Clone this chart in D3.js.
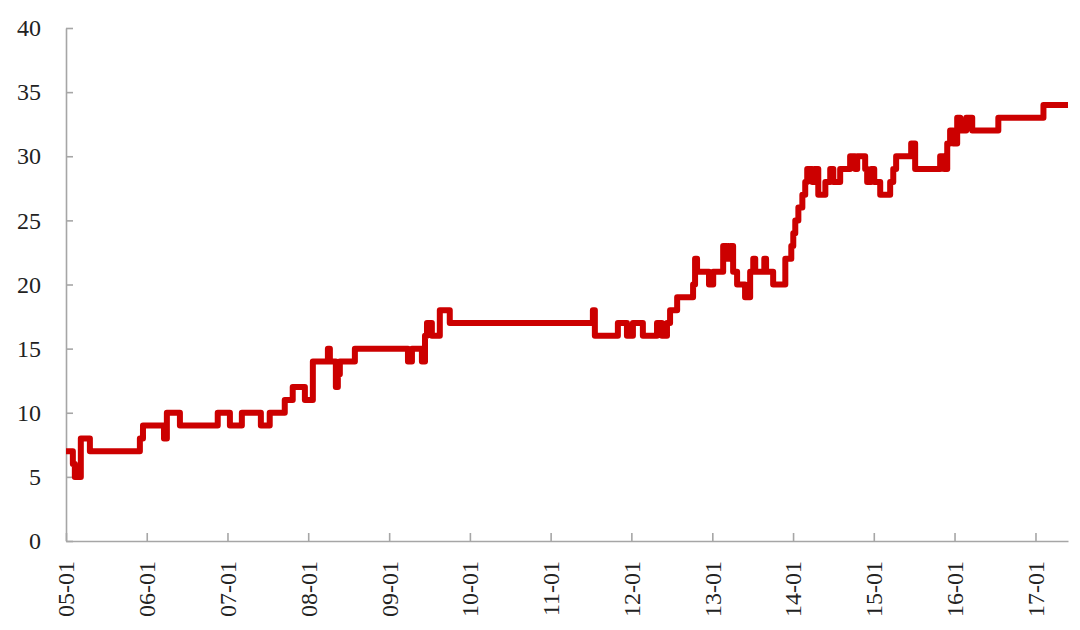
<!DOCTYPE html>
<html>
<head>
<meta charset="utf-8">
<script src="https://cdn.jsdelivr.net/npm/d3@7"></script>
<style>
  html, body { margin: 0; padding: 0; background: #fff; }
  svg { display: block; }
  .axis text { font-family: "Liberation Serif", "DejaVu Serif", serif; font-size: 24px; fill: #222; }
  .axis path, .axis line { stroke: #a6a6a6; stroke-width: 1.6; }
</style>
</head>
<body>
<svg id="chart" width="1080" height="630"></svg>
<script>
"use strict";

// Change points of the step series (date, value).
const dates = [
  "2005-01-01", "2005-02-01", "2005-02-10", "2005-03-09", "2005-04-19",
  "2005-12-01", "2005-12-15", "2006-03-20", "2006-04-02", "2006-05-31",
  "2006-11-18", "2007-01-12", "2007-03-07", "2007-06-01", "2007-07-11",
  "2007-09-17", "2007-10-23", "2007-12-17", "2008-01-22", "2008-03-30",
  "2008-04-08", "2008-05-05", "2008-05-14", "2008-05-23", "2008-07-30",
  "2009-03-27", "2009-04-14", "2009-05-29", "2009-06-12", "2009-06-21",
  "2009-07-13", "2009-08-18", "2009-10-02", "2011-07-11", "2011-07-20",
  "2011-11-01", "2011-12-12", "2012-01-08", "2012-02-22", "2012-04-26",
  "2012-05-18", "2012-06-10", "2012-06-24", "2012-07-26", "2012-10-06",
  "2012-10-15", "2012-10-24", "2012-12-17", "2013-01-05", "2013-02-19",
  "2013-03-09", "2013-03-23", "2013-04-05", "2013-04-23", "2013-05-29",
  "2013-06-21", "2013-07-05", "2013-07-14", "2013-08-24", "2013-09-01",
  "2013-10-03", "2013-11-27", "2013-12-24", "2014-01-02", "2014-01-11",
  "2014-01-25", "2014-02-12", "2014-02-25", "2014-03-06", "2014-03-29",
  "2014-04-07", "2014-04-25", "2014-05-27", "2014-06-18", "2014-07-02",
  "2014-08-02", "2014-09-16", "2014-10-09", "2014-10-18", "2014-11-23",
  "2014-12-02", "2014-12-20", "2015-01-03", "2015-01-30", "2015-03-16",
  "2015-03-30", "2015-04-12", "2015-06-19", "2015-07-07", "2015-10-28",
  "2015-11-15", "2015-11-29", "2015-12-12", "2015-12-26", "2016-01-13",
  "2016-01-27", "2016-02-23", "2016-03-21", "2016-07-17", "2017-02-06",
  "2017-05-28"
];
const values = [
  7, 6, 5, 8, 7,
  8, 9, 8, 10, 9,
  10, 9, 10, 9, 10,
  11, 12, 11, 14, 15,
  14, 12, 13, 14, 15,
  14, 15, 14, 16, 17,
  16, 18, 17, 18, 16,
  17, 16, 17, 16, 17,
  16, 17, 18, 19, 20,
  22, 21, 20, 21, 23,
  22, 23, 21, 20, 19,
  21, 22, 21, 22, 21,
  20, 22, 23, 24, 25,
  26, 27, 28, 29, 28,
  29, 27, 28, 29, 28,
  29, 30, 29, 30, 29,
  28, 29, 28, 27, 28,
  29, 30, 31, 29, 30,
  29, 31, 32, 31, 33,
  32, 33, 32, 33, 34,
  34
];
const yTicks = [0, 5, 10, 15, 20, 25, 30, 35, 40];

const parse = d3.timeParse("%Y-%m-%d");
const data = dates.map((d, i) => ({ date: parse(d), value: values[i] }));

const svg = d3.select("#chart"),
    margin = { left: 66, right: 12, top: 28, bottom: 89 },
    width = +svg.attr("width"),
    height = +svg.attr("height");

const x = d3.scaleTime()
    .domain([parse("2005-01-01"), parse("2017-05-28")])
    .range([margin.left, width - margin.right]);

const y = d3.scaleLinear()
    .domain([0, 40])
    .range([height - margin.bottom, margin.top]);

// Y axis, ticks pointing inward.
svg.append("g")
    .attr("class", "axis")
    .attr("transform", "translate(" + margin.left + ",0)")
    .call(d3.axisLeft(y).tickValues(yTicks).tickSize(-7).tickSizeOuter(0).tickPadding(25));

// X axis with rotated labels.
const xAxis = svg.append("g")
    .attr("class", "axis")
    .attr("transform", "translate(0," + (height - margin.bottom) + ")")
    .call(d3.axisBottom(x).ticks(d3.timeYear.every(1)).tickFormat(d3.timeFormat("%y-%m"))
        .tickSize(-8).tickSizeOuter(0));

xAxis.selectAll("text")
    .attr("text-anchor", "end")
    .attr("transform", "rotate(-90)")
    .attr("x", -20)
    .attr("y", 0)
    .attr("dy", "0.33em");

// Step line.
const line = d3.line()
    .curve(d3.curveStepAfter)
    .x((d) => x(d.date))
    .y((d) => y(d.value));

svg.append("path")
    .datum(data)
    .attr("fill", "none")
    .attr("stroke", "#cc0000")
    .attr("stroke-width", 6)
    .attr("stroke-linejoin", "round")
    .attr("d", line);
</script>
</body>
</html>
